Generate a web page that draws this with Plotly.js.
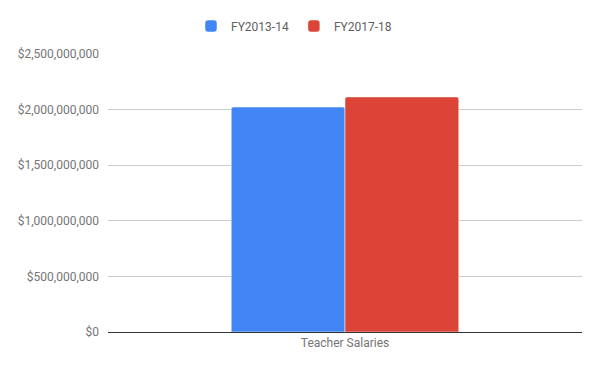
<!DOCTYPE html>
<html>
<head>
<meta charset="utf-8">
<script src="https://cdn.plot.ly/plotly-3.0.1.min.js"></script>
<style>html,body{margin:0;padding:0;background:#fff;}#chart{width:600px;height:371px;}</style>
</head>
<body>
<div id="chart"></div>
<script>
const categories = ["Teacher Salaries"];
const seriesNames = ["FY2013-14", "FY2017-18"];
const fy2013 = [2023000000];
const fy2017 = [2114000000];
const tickVals = [0, 500000000, 1000000000, 1500000000, 2000000000, 2500000000];
const tickText = ["$0", "$500,000,000", "$1,000,000,000", "$1,500,000,000", "$2,000,000,000", "$2,500,000,000"];

const traces = [
  {type: "bar", name: seriesNames[0], x: categories, y: fy2013,
   marker: {color: "#4285f4", line: {color: "#ffffff", width: 0.5}}},
  {type: "bar", name: seriesNames[1], x: categories, y: fy2017,
   marker: {color: "#db4437", line: {color: "#ffffff", width: 0.5}}}
];

const layout = {
  width: 600, height: 371,
  margin: {l: 108, r: 18, t: 54, b: 39},
  paper_bgcolor: "#ffffff", plot_bgcolor: "#ffffff",
  font: {family: "Roboto, Arial, sans-serif", size: 12, color: "#757575"},
  barmode: "group",
  bargap: 0.52,
  bargroupgap: 0.0,
  barcornerradius: 2,
  showlegend: true,
  legend: {orientation: "h", xref: "container", yref: "container",
           x: 0.49, xanchor: "center", y: 1 - 26/371, yanchor: "middle",
           font: {size: 12, color: "#5f5f5f"}},
  xaxis: {showgrid: false, zeroline: false, showline: true, linecolor: "#333333", linewidth: 1,
          ticks: "", tickfont: {size: 12, color: "#757575"}},
  yaxis: {range: [0, 2500000000], tickvals: tickVals, ticktext: tickText,
          showgrid: true, gridcolor: "#cccccc", gridwidth: 1,
          zeroline: true, zerolinecolor: "#333333", zerolinewidth: 1,
          showline: false, ticks: "", ticklabelstandoff: 8,
          tickfont: {size: 12, color: "#757575"}}
};

Plotly.newPlot("chart", traces, layout, {displayModeBar: false, staticPlot: true});
</script>
</body>
</html>
